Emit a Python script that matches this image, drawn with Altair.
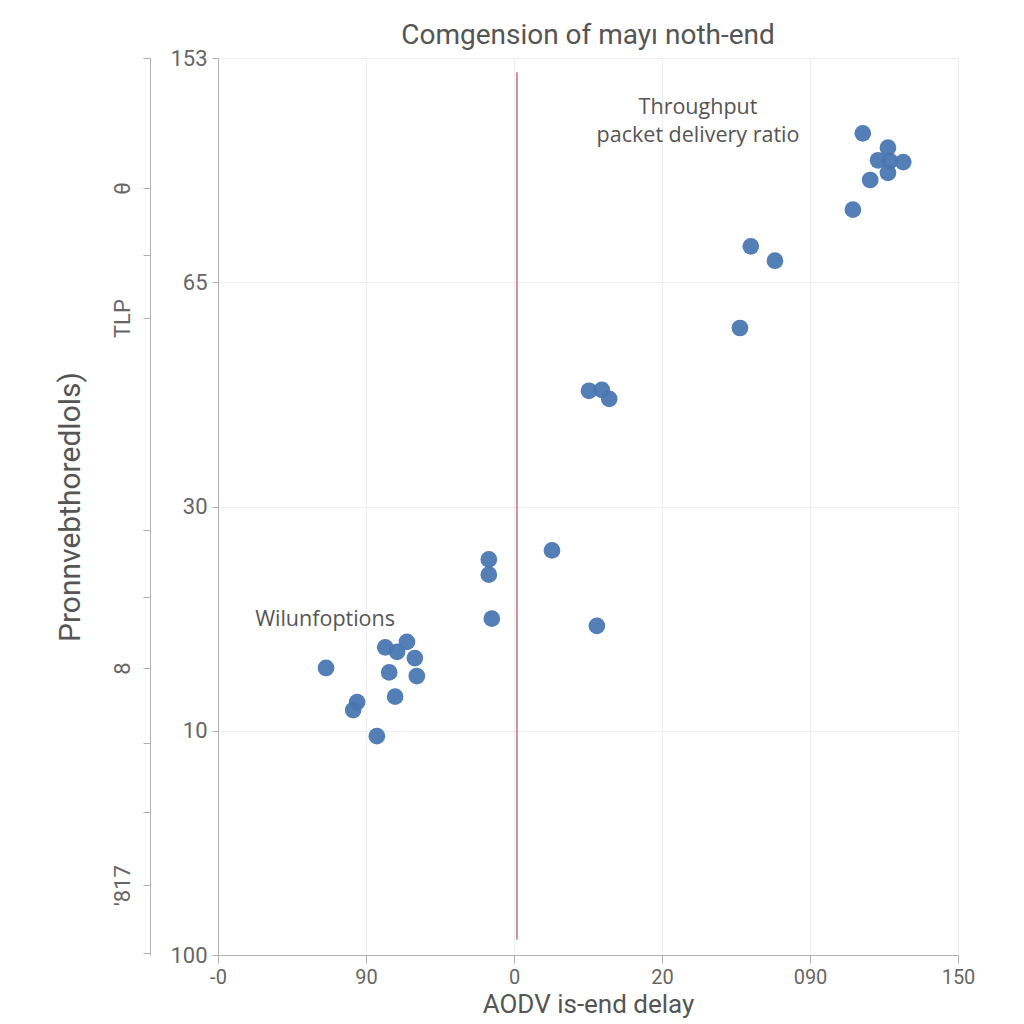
import json
import altair as alt
import pandas as pd

# ---- data ----
x_vals = [130.7, 135.8, 133.8, 136.2, 138.9, 135.8, 132.2, 128.7,
          108.0, 112.9, 105.8,
          75.2, 77.8, 79.3,
          67.7, 54.9, 54.9, 55.5, 76.8,
          21.9, 33.9, 38.3, 36.3, 39.9, 34.7, 40.3, 35.9, 28.2, 27.4, 32.2]
y_vals = [91.6, 90.0, 88.6, 88.5, 88.4, 87.2, 86.4, 83.1,
          79.0, 77.4, 69.9,
          62.9, 63.0, 62.0,
          45.1, 44.1, 42.4, 37.5, 36.7,
          32.0, 34.3, 34.9, 33.8, 33.1, 31.5, 31.1, 28.8, 28.2, 27.3, 24.4]

x_ticks = [0, 30, 60, 90, 120, 150]
x_tick_labels = ["-0", "90", "0", "20", "090", "150"]
y_ticks = [0, 25, 50, 75, 100]
y_tick_labels = ["100", "10", "30", "65", "153"]
outer_ticks = [100, 85.5, 78.0, 71.0, 47.4, 39.9, 32.0, 23.6, 15.9, 7.8, 0.2]
outer_labels = ["", "θ", "", "TLP", "", "", "8", "", "", "'817", ""]

vline_x = [60.6]
vline_y = [98.4]
vline_y2 = [1.7]

note_text = ["Throughput", "packet delivery ratio", "Wilunfoptions"]
note_x = [97.3, 97.3, 21.7]
note_y = [94.4, 91.3, 37.3]

title_text = "Comgension of mayı noth-end"
x_title = "AODV is-end delay"
y_title = "Pronnvebthoredlols)"


def label_expr(values, labels):
    expr = '""'
    for v, l in reversed(list(zip(values, labels))):
        expr = f"datum.value == {v} ? {json.dumps(l)} : ({expr})"
    return expr


FONT = "Roboto"
pts = pd.DataFrame({"x": x_vals, "y": y_vals})
xs = alt.Scale(domain=[0, 150], nice=False, zero=False)
ys = alt.Scale(domain=[0, 100], nice=False, zero=False)

points = alt.Chart(pts).mark_circle(size=280, color="#4a77b2", opacity=0.95).encode(
    x=alt.X("x:Q", scale=xs, axis=alt.Axis(
        values=x_ticks, labelExpr=label_expr(x_ticks, x_tick_labels),
        title=x_title, titleFontSize=26, titleFont=FONT, titleFontWeight="normal",
        titleColor="#555555", labelFontSize=20, labelFont=FONT, labelColor="#666666",
        labelPadding=4, titlePadding=4, tickSize=8, domainColor="#b0b0b0",
        tickColor="#b0b0b0", gridColor="#eeeeee", grid=True, labelFlush=False)),
    y=alt.Y("y:Q", scale=ys, axis=alt.Axis(
        values=y_ticks, labelExpr=label_expr(y_ticks, y_tick_labels),
        title=None, labelFontSize=22, labelFont=FONT, labelColor="#666666",
        tickSize=6, domainColor="#b0b0b0", tickColor="#b0b0b0",
        gridColor="#eeeeee", grid=True, labelPadding=5, labelFlush=False)),
)

vline = alt.Chart(pd.DataFrame({"x": vline_x, "y": vline_y, "y2": vline_y2})).mark_rule(
    color="#c0727a", strokeWidth=1.5).encode(
    x=alt.X("x:Q", scale=xs), y=alt.Y("y:Q", scale=ys), y2="y2:Q")

notes = alt.Chart(pd.DataFrame({"t": note_text, "x": note_x, "y": note_y})).mark_text(
    fontSize=21.5, font="Open Sans", color="#555555", align="center", baseline="middle").encode(
    x=alt.X("x:Q", scale=xs), y=alt.Y("y:Q", scale=ys), text="t:N")

main = alt.layer(vline, points, notes)

outer = alt.Chart(pd.DataFrame({"y": outer_ticks})).mark_point(opacity=0).encode(
    y=alt.Y("y:Q", scale=alt.Scale(domain=[0, 100], nice=False, zero=False), axis=alt.Axis(
        orient="left", offset=68, values=outer_ticks,
        labelExpr=label_expr(outer_ticks, outer_labels),
        labelAngle=270, labelAlign="center", labelBaseline="bottom",
        labelFontSize=22, labelFont=FONT, labelColor="#666666", labelPadding=9,
        tickSize=7, domainColor="#b0b0b0", tickColor="#b0b0b0", grid=False,
        title=y_title, titleFontSize=30, titleFont=FONT, titleFontWeight="normal",
        titleColor="#555555", titlePadding=26, labelFlush=False)),
)

chart = alt.layer(main, outer).resolve_scale(y="independent").properties(
    width=740, height=897,
    title=alt.TitleParams(title_text, fontSize=28, font=FONT, fontWeight="normal",
                          color="#555555", anchor="middle", offset=-3),
    autosize=alt.AutoSizeParams(type="none"),
    padding={"left": 210, "top": 50, "right": 40, "bottom": 66},
    background="white",
).configure_view(strokeWidth=0)

chart.save("out.html", embed_options={"renderer": "svg", "actions": False})
